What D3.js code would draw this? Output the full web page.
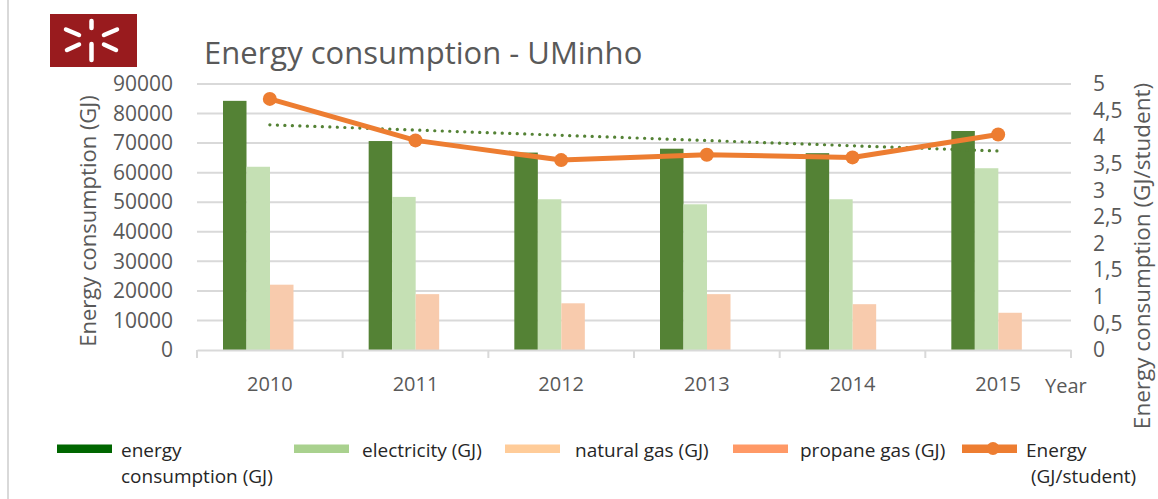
<!DOCTYPE html>
<html>
<head>
<meta charset="utf-8">
<script src="https://cdn.jsdelivr.net/npm/d3@7"></script>
<style>
	body { margin: 0; background: #fff; }
	svg { display: block; font-family: "Open Sans", sans-serif; }
</style>
</head>
<body>
<svg width="1158" height="499"></svg>
<script>
var years = ["2010", "2011", "2012", "2013", "2014", "2015"];
var energyGJ = [84300, 70700, 66800, 68100, 66600, 74100];
var electricityGJ = [62000, 51800, 51000, 49300, 51000, 61500];
var naturalGasGJ = [22100, 18900, 15800, 18900, 15500, 12600];
var propaneGasGJ = [0, 0, 0, 0, 0, 0];
var energyPerStudent = [4.72, 3.94, 3.57, 3.67, 3.62, 4.05];
var leftTicks = [0, 10000, 20000, 30000, 40000, 50000, 60000, 70000, 80000, 90000];
var rightTicks = [0, 0.5, 1, 1.5, 2, 2.5, 3, 3.5, 4, 4.5, 5];

var seriesNames = ["energy", "electricity", "naturalGas", "propane"];
var barColors = ["#548235", "#c5e0b4", "#f8cbad", "#f4b183"];

var canvas = d3.select("svg");
var margin = {left: 197, right: 1071, top: 84, bottom: 350};

// slide border + logo
canvas.append("line")
	.attr("x1", 8).attr("x2", 8).attr("y1", 0).attr("y2", 499)
	.attr("stroke", "#d9d9d9").attr("stroke-width", 2);

var logo = canvas.append("g");
logo.append("rect")
	.attr("x", 50).attr("y", 14).attr("width", 87).attr("height", 53)
	.attr("fill", "#991b1e");
var dashes = [[91.5, 21, 91.5, 28], [91.5, 44, 91.5, 60], [66, 29.5, 79, 35], [67, 50, 79, 44.5],
	[104, 35, 117, 29.5], [104, 44.5, 116, 50]];
logo.selectAll("line").data(dashes).enter().append("line")
	.attr("x1", function(d) {return d[0];}).attr("y1", function(d) {return d[1];})
	.attr("x2", function(d) {return d[2];}).attr("y2", function(d) {return d[3];})
	.attr("stroke", "#fff").attr("stroke-width", 4.5).attr("stroke-linecap", "round");

canvas.append("text")
	.attr("x", 204).attr("y", 64)
	.attr("font-size", 31).attr("fill", "#595959")
	.text("Energy consumption - UMinho");

// scales
var x = d3.scaleBand().domain(years).range([margin.left, margin.right]);
var x1 = d3.scaleBand().domain(seriesNames).range([26, 120]);
var y = d3.scaleLinear().domain([0, 90000]).range([margin.bottom, margin.top]);
var y2 = d3.scaleLinear().domain([0, 5]).range([margin.bottom, margin.top]);

// gridlines
canvas.append("g").selectAll("line").data(leftTicks.slice(1)).enter().append("line")
	.attr("x1", margin.left).attr("x2", margin.right)
	.attr("y1", function(d) {return y(d);}).attr("y2", function(d) {return y(d);})
	.attr("stroke", "#d9d9d9").attr("stroke-width", 2);

// bars
var rows = years.map(function(yr, i) {
	return {year: yr, values: [energyGJ[i], electricityGJ[i], naturalGasGJ[i], propaneGasGJ[i]]};
});
var group = canvas.append("g").selectAll("g").data(rows).enter().append("g")
	.attr("transform", function(d) {return "translate(" + x(d.year) + ",0)";});
group.selectAll("rect")
	.data(function(d) {return d.values.map(function(v, k) {return {key: seriesNames[k], value: v, k: k};});})
	.enter().append("rect")
	.attr("x", function(d) {return x1(d.key);})
	.attr("width", x1.bandwidth())
	.attr("y", function(d) {return y(d.value);})
	.attr("height", function(d) {return y(0) - y(d.value);})
	.attr("fill", function(d) {return barColors[d.k];});

// bottom axis
var xAxis = canvas.append("g")
	.attr("transform", "translate(0," + margin.bottom + ")")
	.call(d3.axisBottom(x).tickSize(0).tickPadding(27));
xAxis.select(".domain").attr("stroke", "#d9d9d9").attr("stroke-width", 2);
xAxis.selectAll("text").attr("font-size", 20).attr("fill", "#595959").attr("font-family", "Open Sans");
var bounds = [margin.left].concat(years.map(function(d) {return x(d) + x.bandwidth();}));
xAxis.selectAll(".sep").data(bounds).enter().append("line")
	.attr("class", "sep")
	.attr("x1", function(d) {return d;}).attr("x2", function(d) {return d;})
	.attr("y1", 0).attr("y2", 8)
	.attr("stroke", "#d9d9d9").attr("stroke-width", 2);

canvas.append("text")
	.attr("x", 1045).attr("y", 393)
	.attr("font-size", 20).attr("fill", "#595959")
	.text("Year");

// left axis
var yAxis = canvas.append("g")
	.attr("transform", "translate(" + (margin.left - 4) + ",0)")
	.call(d3.axisLeft(y).tickValues(leftTicks).tickSize(0).tickPadding(20).tickFormat(d3.format("d")));
yAxis.select(".domain").remove();
yAxis.selectAll("text").attr("font-size", 21).attr("fill", "#595959").attr("font-family", "Open Sans");

// right axis
var commaFormat = d3.formatLocale({decimal: ",", thousands: ".", grouping: [3], currency: ["", ""]}).format("~g");
var y2Axis = canvas.append("g")
	.attr("transform", "translate(" + margin.right + ",0)")
	.call(d3.axisRight(y2).tickValues(rightTicks).tickSize(0).tickPadding(22).tickFormat(commaFormat));
y2Axis.select(".domain").remove();
y2Axis.selectAll("text").attr("font-size", 21).attr("fill", "#595959").attr("font-family", "Open Sans");

canvas.append("text")
	.attr("transform", "translate(96,221) rotate(-90)")
	.attr("text-anchor", "middle")
	.attr("font-size", 22).attr("fill", "#595959")
	.text("Energy consumption (GJ)");
canvas.append("text")
	.attr("transform", "translate(1150,256) rotate(-90)")
	.attr("text-anchor", "middle")
	.attr("font-size", 22.5).attr("fill", "#595959")
	.text("Energy consumption (GJ/student)");

// linear trendline of energy consumption
var xs = years.map(function(d, i) {return i;});
var n = xs.length;
var mx = d3.mean(xs), my = d3.mean(energyGJ);
var slope = d3.sum(xs, function(v, i) {return (v - mx) * (energyGJ[i] - my);}) /
	d3.sum(xs, function(v) {return (v - mx) * (v - mx);});
var trend = [0, n - 1].map(function(i) {return {year: years[i], value: my + slope * (i - mx)};});
canvas.append("path")
	.datum(trend)
	.attr("d", d3.line()
		.x(function(d) {return x(d.year) + x.bandwidth() / 2;})
		.y(function(d) {return y(d.value);}))
	.attr("fill", "none")
	.attr("stroke", "#548235").attr("stroke-width", 3.2)
	.attr("stroke-linecap", "round")
	.attr("stroke-dasharray", "0.1 7.4");

// energy per student line
var linePts = years.map(function(yr, i) {return {year: yr, value: energyPerStudent[i]};});
canvas.append("path")
	.datum(linePts)
	.attr("d", d3.line()
		.x(function(d) {return x(d.year) + x.bandwidth() / 2;})
		.y(function(d) {return y2(d.value);}))
	.attr("fill", "none")
	.attr("stroke", "#ed7d31").attr("stroke-width", 5)
	.attr("stroke-linejoin", "round");
canvas.append("g").selectAll("circle").data(linePts).enter().append("circle")
	.attr("cx", function(d) {return x(d.year) + x.bandwidth() / 2;})
	.attr("cy", function(d) {return y2(d.value);})
	.attr("r", 7)
	.attr("fill", "#ed7d31");

// legend
var legendItems = [
	{lines: ["energy", "consumption (GJ)"], color: "#006600", sx: 57, tx: 121, type: "bar"},
	{lines: ["electricity (GJ)"], color: "#a9d18e", sx: 294, tx: 362, type: "bar"},
	{lines: ["natural gas (GJ)"], color: "#ffcc99", sx: 505, tx: 575, type: "bar"},
	{lines: ["propane gas (GJ)"], color: "#ff9966", sx: 733, tx: 800, type: "bar"},
	{lines: ["Energy", " (GJ/student)"], color: "#ed7d31", sx: 962, tx: 1026, type: "line"}
];
var legend = canvas.append("g").selectAll("g").data(legendItems).enter().append("g");
legend.append("rect")
	.attr("x", function(d) {return d.sx;})
	.attr("y", 444.5)
	.attr("width", 55)
	.attr("height", 8.5)
	.attr("fill", function(d) {return d.color;});
legend.filter(function(d) {return d.type == "line";}).append("circle")
	.attr("cx", function(d) {return d.sx + 31;})
	.attr("cy", 448.5)
	.attr("r", 6.5)
	.attr("fill", function(d) {return d.color;});
legend.each(function(d) {
	var t = d3.select(this).append("text")
		.attr("font-size", 19)
		.attr("fill", "#262626");
	d.lines.forEach(function(s, i) {
		t.append("tspan")
			.attr("x", d.tx)
			.attr("y", 457 + i * 26)
			.attr("xml:space", "preserve")
			.text(s);
	});
});
</script>
</body>
</html>
